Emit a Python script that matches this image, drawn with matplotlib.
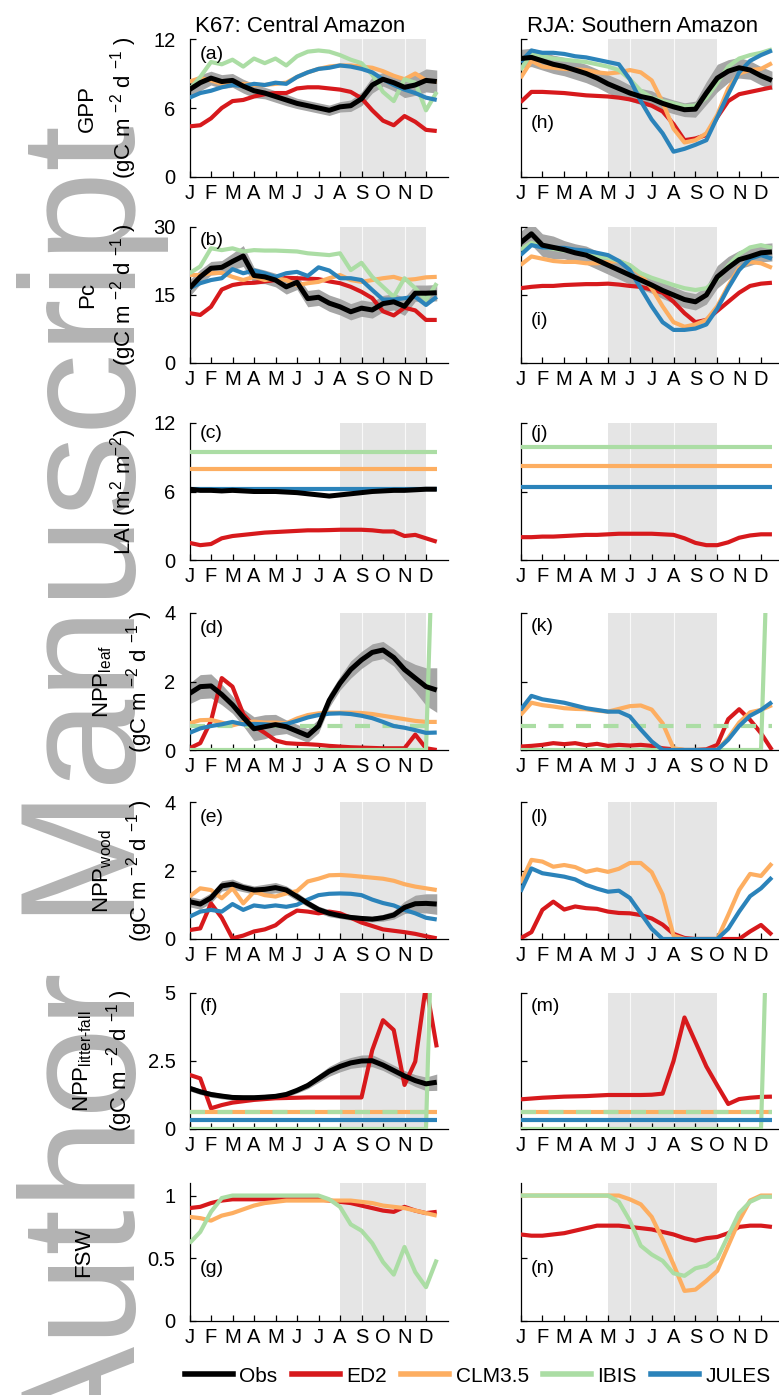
import numpy as np
import matplotlib
matplotlib.use('Agg')
import matplotlib.pyplot as plt
from matplotlib.lines import Line2D

plt.rcParams['font.family'] = ['Liberation Sans', 'DejaVu Sans']
plt.rcParams['mathtext.fontset'] = 'custom'
plt.rcParams['mathtext.rm'] = 'Liberation Sans'
plt.rcParams['mathtext.it'] = 'Liberation Sans'
plt.rcParams['mathtext.default'] = 'regular'

W, H = 779, 1395

# ---------------- data ----------------
months = ['J', 'F', 'M', 'A', 'M', 'J', 'J', 'A', 'S', 'O', 'N', 'D']
month_pos = [0, 1, 2, 3, 4, 5, 6, 7, 8, 9, 10, 11]
time = [0.0, 0.5, 1.0, 1.5, 2.0, 2.5, 3.0, 3.5, 4.0, 4.5, 5.0, 5.5,
        6.0, 6.5, 7.0, 7.5, 8.0, 8.5, 9.0, 9.5, 10.0, 10.5, 11.0, 11.5]

# K67 (Central Amazon)
gpp_k_obs = [7.6, 8.2, 8.6, 8.3, 8.4, 7.9, 7.5, 7.3, 7.0, 6.7, 6.4, 6.2, 6.0, 5.8, 6.1, 6.2, 6.8, 8.0, 8.5, 8.2, 7.8, 8.0, 8.4, 8.3]
gpp_k_sd = [0.8, 0.7, 0.6, 0.6, 0.6, 0.6, 0.6, 0.5, 0.5, 0.5, 0.45, 0.45, 0.45, 0.45, 0.45, 0.5, 0.6, 0.7, 0.6, 0.7, 0.9, 0.9, 1.0, 1.0]
gpp_k_ed2 = [4.4, 4.5, 5.1, 6.0, 6.6, 6.7, 7.0, 7.2, 7.3, 7.3, 7.7, 7.8, 7.8, 7.7, 7.6, 7.4, 6.85, 5.8, 4.9, 4.5, 5.3, 4.8, 4.1, 4.0]
gpp_k_clm = [8.3, 8.6, 8.4, 8.1, 8.0, 8.1, 8.0, 8.0, 8.1, 8.2, 8.7, 9.1, 9.4, 9.6, 9.7, 9.7, 9.6, 9.5, 9.2, 8.8, 8.5, 9.0, 8.4, 8.3]
gpp_k_ibis = [7.6, 8.7, 10.0, 9.8, 10.2, 9.6, 10.3, 9.9, 10.3, 9.7, 10.5, 10.9, 11.0, 10.9, 10.6, 10.2, 9.9, 8.9, 7.4, 6.6, 8.5, 8.2, 5.8, 7.4]
gpp_k_jules = [6.9, 7.3, 7.5, 7.8, 8.0, 7.9, 8.1, 8.0, 8.2, 8.1, 8.7, 9.1, 9.4, 9.5, 9.7, 9.6, 9.4, 9.1, 8.5, 8.0, 7.6, 7.3, 6.9, 6.7]

pc_k_obs = [16.5, 19.0, 20.9, 21.1, 22.4, 23.6, 19.3, 19.0, 18.3, 16.8, 17.8, 14.2, 14.5, 13.2, 12.4, 11.3, 12.1, 11.7, 13.1, 13.5, 12.5, 15.4, 15.4, 15.5]
pc_k_sd = [1.8, 1.6, 1.5, 1.5, 1.8, 2.3, 1.8, 1.5, 1.5, 1.6, 1.6, 1.8, 1.8, 1.8, 1.8, 1.8, 1.8, 1.8, 1.8, 1.8, 2.0, 1.8, 1.8, 1.8]
pc_k_ed2 = [11.0, 10.6, 12.4, 16.2, 17.2, 17.6, 17.7, 18.0, 18.3, 18.8, 18.7, 18.6, 18.5, 18.0, 17.6, 16.8, 15.7, 14.3, 11.4, 10.5, 12.2, 11.6, 9.5, 9.5]
pc_k_clm = [19.4, 19.4, 19.8, 19.9, 19.0, 18.3, 19.0, 18.3, 18.7, 18.3, 17.2, 17.6, 17.9, 18.7, 19.4, 18.3, 17.9, 18.3, 18.7, 19.0, 18.3, 18.5, 18.9, 19.0]
pc_k_ibis = [19.8, 21.3, 25.3, 24.9, 25.3, 24.6, 24.9, 24.8, 24.8, 24.7, 24.6, 24.2, 24.0, 23.8, 24.2, 20.5, 22.1, 19.0, 16.8, 14.6, 18.7, 16.5, 13.9, 17.6]
pc_k_jules = [16.5, 17.6, 18.3, 18.7, 20.7, 19.8, 20.4, 19.8, 19.0, 19.8, 20.1, 19.2, 21.1, 20.4, 18.7, 18.7, 18.3, 16.1, 14.0, 14.0, 14.3, 14.6, 12.8, 14.6]

lai_k_obs = [6.2, 6.1, 6.1, 6.05, 6.1, 6.05, 6.0, 6.0, 6.0, 5.95, 5.9, 5.8, 5.7, 5.6, 5.7, 5.8, 5.9, 6.0, 6.05, 6.1, 6.1, 6.15, 6.2, 6.2]
lai_k_ed2 = [1.5, 1.3, 1.4, 1.9, 2.1, 2.2, 2.3, 2.4, 2.45, 2.5, 2.55, 2.6, 2.6, 2.62, 2.65, 2.65, 2.65, 2.6, 2.5, 2.5, 2.1, 2.2, 1.9, 1.6]
lai_k_clm = [8.0, 8.0, 8.0, 8.0, 8.0, 8.0, 8.0, 8.0, 8.0, 8.0, 8.0, 8.0, 8.0, 8.0, 8.0, 8.0, 8.0, 8.0, 8.0, 8.0, 8.0, 8.0, 8.0, 8.0]
lai_k_ibis = [9.5, 9.5, 9.5, 9.5, 9.5, 9.5, 9.5, 9.5, 9.5, 9.5, 9.5, 9.5, 9.5, 9.5, 9.5, 9.5, 9.5, 9.5, 9.5, 9.5, 9.5, 9.5, 9.5, 9.5]
lai_k_jules = [6.25, 6.25, 6.25, 6.25, 6.25, 6.25, 6.25, 6.25, 6.25, 6.25, 6.25, 6.25, 6.25, 6.25, 6.25, 6.25, 6.25, 6.25, 6.25, 6.25, 6.25, 6.25, 6.25, 6.25]

leaf_k_obs = [1.65, 1.85, 1.87, 1.62, 1.32, 0.95, 0.62, 0.68, 0.74, 0.68, 0.55, 0.42, 0.7, 1.45, 1.95, 2.35, 2.63, 2.85, 2.92, 2.7, 2.35, 2.1, 1.85, 1.75]
leaf_k_sd = [0.3, 0.35, 0.35, 0.3, 0.25, 0.25, 0.35, 0.35, 0.3, 0.2, 0.2, 0.2, 0.2, 0.2, 0.2, 0.25, 0.25, 0.25, 0.25, 0.25, 0.3, 0.4, 0.55, 0.65]
leaf_k_ed2 = [0.05, 0.2, 0.85, 2.1, 1.85, 1.05, 0.7, 0.5, 0.28, 0.2, 0.18, 0.17, 0.15, 0.12, 0.1, 0.08, 0.07, 0.06, 0.05, 0.05, 0.05, 0.45, 0.05, 0.0]
leaf_k_clm = [0.78, 0.87, 0.88, 0.8, 0.72, 0.8, 0.83, 0.8, 0.8, 0.78, 0.92, 1.02, 1.07, 1.09, 1.09, 1.09, 1.08, 1.05, 1.0, 0.95, 0.9, 0.85, 0.82, 0.82]
leaf_k_ibis = [0, 0, 0, 0, 0, 0, 0, 0, 0, 0, 0, 0, 0, 0, 0, 0, 0, 0, 0, 0, 0, 0, 0, 10.0]
leaf_k_ibis_mean = [0.71, 0.71, 0.71, 0.71, 0.71, 0.71, 0.71, 0.71, 0.71, 0.71, 0.71, 0.71, 0.71, 0.71, 0.71, 0.71, 0.71, 0.71, 0.71, 0.71, 0.71, 0.71, 0.71, 0.71]
leaf_k_jules = [0.5, 0.63, 0.7, 0.75, 0.82, 0.75, 0.76, 0.75, 0.73, 0.76, 0.85, 0.95, 1.02, 1.06, 1.07, 1.05, 1.0, 0.93, 0.82, 0.7, 0.65, 0.58, 0.5, 0.51]

wood_k_obs = [1.09, 1.02, 1.2, 1.55, 1.6, 1.5, 1.43, 1.45, 1.5, 1.43, 1.24, 1.04, 0.86, 0.75, 0.68, 0.63, 0.6, 0.58, 0.62, 0.7, 0.92, 1.03, 1.04, 1.02]
wood_k_sd = [0.15, 0.15, 0.15, 0.15, 0.15, 0.12, 0.12, 0.15, 0.15, 0.12, 0.12, 0.1, 0.1, 0.1, 0.08, 0.08, 0.08, 0.08, 0.1, 0.12, 0.18, 0.25, 0.28, 0.3]
wood_k_ed2 = [0.26, 0.31, 1.04, 0.62, 0.02, 0.1, 0.22, 0.28, 0.4, 0.65, 0.83, 0.8, 0.75, 0.8, 0.75, 0.62, 0.48, 0.38, 0.28, 0.24, 0.2, 0.15, 0.08, 0.02]
wood_k_clm = [1.24, 1.48, 1.43, 1.19, 1.48, 1.04, 1.38, 1.28, 1.24, 1.33, 1.4, 1.68, 1.76, 1.86, 1.87, 1.85, 1.82, 1.79, 1.76, 1.7, 1.6, 1.53, 1.48, 1.43]
wood_k_jules = [0.65, 0.8, 0.85, 0.8, 1.02, 0.85, 0.98, 0.94, 0.98, 0.94, 1.0, 1.15, 1.28, 1.32, 1.33, 1.32, 1.28, 1.15, 1.05, 0.98, 0.85, 0.75, 0.62, 0.57]

lit_k_obs = [1.5, 1.37, 1.27, 1.21, 1.16, 1.15, 1.15, 1.17, 1.2, 1.27, 1.42, 1.6, 1.86, 2.12, 2.3, 2.43, 2.5, 2.51, 2.35, 2.15, 1.95, 1.78, 1.66, 1.72]
lit_k_sd = [0.1, 0.1, 0.1, 0.1, 0.1, 0.1, 0.1, 0.1, 0.1, 0.1, 0.1, 0.12, 0.15, 0.18, 0.2, 0.2, 0.22, 0.22, 0.2, 0.2, 0.2, 0.22, 0.25, 0.3]
lit_k_ed2 = [1.99, 1.86, 0.76, 0.88, 0.97, 1.02, 1.07, 1.1, 1.13, 1.14, 1.15, 1.16, 1.16, 1.16, 1.16, 1.16, 1.16, 2.9, 4.0, 3.64, 1.62, 2.48, 5.3, 3.0]
lit_k_clm = [0.64, 0.64, 0.64, 0.64, 0.64, 0.64, 0.64, 0.64, 0.64, 0.64, 0.64, 0.64, 0.64, 0.64, 0.64, 0.64, 0.64, 0.64, 0.64, 0.64, 0.64, 0.64, 0.64, 0.64]
lit_k_ibis = [0, 0, 0, 0, 0, 0, 0, 0, 0, 0, 0, 0, 0, 0, 0, 0, 0, 0, 0, 0, 0, 0, 0, 14.0]
lit_k_ibis_mean = [0.64, 0.64, 0.64, 0.64, 0.64, 0.64, 0.64, 0.64, 0.64, 0.64, 0.64, 0.64, 0.64, 0.64, 0.64, 0.64, 0.64, 0.64, 0.64, 0.64, 0.64, 0.64, 0.64, 0.64]
lit_k_jules = [0.33, 0.33, 0.33, 0.33, 0.33, 0.33, 0.33, 0.33, 0.33, 0.33, 0.33, 0.33, 0.33, 0.33, 0.33, 0.33, 0.33, 0.33, 0.33, 0.33, 0.33, 0.33, 0.33, 0.33]

fsw_k_ed2 = [0.9, 0.91, 0.94, 0.96, 0.97, 0.97, 0.97, 0.97, 0.97, 0.97, 0.97, 0.97, 0.97, 0.96, 0.95, 0.94, 0.92, 0.9, 0.88, 0.87, 0.91, 0.88, 0.86, 0.87]
fsw_k_clm = [0.83, 0.82, 0.8, 0.84, 0.86, 0.89, 0.92, 0.94, 0.95, 0.96, 0.96, 0.96, 0.96, 0.96, 0.96, 0.96, 0.95, 0.94, 0.92, 0.91, 0.9, 0.88, 0.86, 0.84]
fsw_k_ibis = [0.62, 0.71, 0.87, 0.98, 1.0, 1.0, 1.0, 1.0, 1.0, 1.0, 1.0, 1.0, 1.0, 0.97, 0.91, 0.77, 0.72, 0.62, 0.47, 0.37, 0.59, 0.39, 0.27, 0.49]

# RJA (Southern Amazon)
gpp_r_obs = [10.3, 10.4, 10.1, 9.8, 9.6, 9.3, 9.0, 8.6, 8.1, 7.7, 7.3, 7.0, 6.8, 6.4, 6.1, 5.85, 5.9, 7.3, 8.6, 9.2, 9.5, 9.3, 8.8, 8.4]
gpp_r_sd = [0.8, 0.8, 0.8, 0.8, 0.8, 0.8, 0.8, 0.8, 0.8, 0.8, 0.7, 0.7, 0.7, 0.6, 0.6, 0.6, 0.7, 1.0, 1.2, 1.0, 0.9, 0.8, 0.8, 0.8]
gpp_r_ed2 = [6.5, 7.4, 7.4, 7.35, 7.3, 7.2, 7.1, 7.05, 7.0, 6.9, 6.75, 6.5, 6.2, 5.7, 4.6, 3.2, 3.35, 3.65, 5.2, 6.6, 7.2, 7.4, 7.6, 7.8]
gpp_r_clm = [8.6, 10.1, 9.6, 9.5, 9.4, 9.35, 9.3, 9.1, 9.0, 9.1, 9.3, 9.1, 8.4, 6.5, 4.2, 3.0, 3.2, 3.8, 5.4, 7.7, 9.0, 9.3, 9.4, 9.9]
gpp_r_ibis = [9.3, 10.8, 10.5, 10.3, 10.2, 10.1, 10.0, 9.8, 9.6, 9.3, 8.5, 7.5, 6.9, 6.6, 6.4, 6.15, 6.2, 6.9, 8.2, 9.6, 10.3, 10.6, 10.8, 11.1]
gpp_r_jules = [10.0, 11.0, 10.8, 10.8, 10.7, 10.5, 10.4, 10.2, 10.0, 9.8, 8.5, 6.6, 5.0, 3.8, 2.2, 2.45, 2.8, 3.2, 5.2, 7.2, 9.1, 10.1, 10.6, 11.0]

pc_r_obs = [26.5, 28.5, 26.0, 25.5, 25.0, 24.3, 23.8, 22.7, 21.6, 20.5, 19.4, 18.3, 17.2, 16.0, 15.0, 14.0, 13.5, 15.0, 19.0, 21.0, 22.8, 23.5, 24.3, 24.5]
pc_r_sd = [2.5, 2.5, 2.5, 2.5, 2.0, 2.0, 2.0, 2.0, 2.0, 2.0, 2.0, 2.0, 1.8, 1.8, 1.8, 1.8, 1.8, 2.0, 2.5, 2.5, 2.0, 2.0, 2.0, 2.0]
pc_r_ed2 = [16.5, 16.8, 17.0, 17.0, 17.2, 17.3, 17.4, 17.4, 17.5, 17.3, 17.0, 16.8, 16.2, 15.5, 13.5, 11.0, 9.0, 9.5, 11.5, 13.5, 15.5, 17.0, 17.5, 17.7]
pc_r_clm = [21.6, 23.5, 23.0, 22.5, 22.3, 22.3, 22.0, 22.0, 22.3, 22.5, 21.5, 19.5, 16.5, 12.5, 9.0, 8.0, 8.5, 9.5, 12.5, 17.0, 21.0, 22.3, 22.0, 21.0]
pc_r_ibis = [25.0, 26.5, 25.6, 25.2, 24.8, 24.5, 24.0, 23.5, 23.2, 22.5, 21.6, 19.8, 18.8, 18.0, 17.2, 16.5, 16.1, 16.5, 18.5, 21.5, 24.0, 25.5, 26.0, 25.4]
pc_r_jules = [23.8, 26.0, 25.5, 25.4, 25.4, 25.0, 24.8, 24.3, 23.8, 22.5, 20.5, 16.5, 12.5, 9.0, 7.3, 7.3, 7.6, 8.5, 12.0, 16.5, 20.5, 23.0, 23.8, 23.0]

lai_r_ed2 = [2.0, 2.0, 2.05, 2.05, 2.1, 2.15, 2.2, 2.2, 2.25, 2.3, 2.3, 2.3, 2.3, 2.25, 2.2, 1.9, 1.5, 1.3, 1.3, 1.55, 1.95, 2.15, 2.25, 2.25]
lai_r_clm = [8.2, 8.2, 8.2, 8.2, 8.2, 8.2, 8.2, 8.2, 8.2, 8.2, 8.2, 8.2, 8.2, 8.2, 8.2, 8.2, 8.2, 8.2, 8.2, 8.2, 8.2, 8.2, 8.2, 8.2]
lai_r_ibis = [9.9, 9.9, 9.9, 9.9, 9.9, 9.9, 9.9, 9.9, 9.9, 9.9, 9.9, 9.9, 9.9, 9.9, 9.9, 9.9, 9.9, 9.9, 9.9, 9.9, 9.9, 9.9, 9.9, 9.9]
lai_r_jules = [6.4, 6.4, 6.4, 6.4, 6.4, 6.4, 6.4, 6.4, 6.4, 6.4, 6.4, 6.4, 6.4, 6.4, 6.4, 6.4, 6.4, 6.4, 6.4, 6.4, 6.4, 6.4, 6.4, 6.4]

leaf_r_ed2 = [0.1, 0.12, 0.15, 0.2, 0.17, 0.2, 0.14, 0.18, 0.12, 0.15, 0.13, 0.15, 0.12, 0.05, 0.02, 0.0, 0.0, 0.02, 0.15, 0.9, 1.19, 0.88, 0.49, 0.0]
leaf_r_clm = [1.02, 1.38, 1.31, 1.27, 1.22, 1.2, 1.19, 1.15, 1.12, 1.2, 1.28, 1.3, 1.18, 0.78, 0.05, 0.0, 0.0, 0.0, 0.0, 0.35, 0.8, 1.1, 1.17, 1.31]
leaf_r_ibis = [0, 0, 0, 0, 0, 0, 0, 0, 0, 0, 0, 0, 0, 0, 0, 0, 0, 0, 0, 0, 0, 0, 0, 10.0]
leaf_r_ibis_mean = [0.71, 0.71, 0.71, 0.71, 0.71, 0.71, 0.71, 0.71, 0.71, 0.71, 0.71, 0.71, 0.71, 0.71, 0.71, 0.71, 0.71, 0.71, 0.71, 0.71, 0.71, 0.71, 0.71, 0.71]
leaf_r_jules = [1.17, 1.58, 1.48, 1.43, 1.38, 1.3, 1.22, 1.17, 1.12, 1.12, 0.98, 0.6, 0.25, 0.0, 0.0, 0.0, 0.0, 0.0, 0.0, 0.3, 0.7, 1.0, 1.17, 1.4]

wood_r_ed2 = [0.02, 0.2, 0.85, 1.09, 0.86, 0.95, 0.9, 0.88, 0.8, 0.76, 0.75, 0.7, 0.6, 0.42, 0.15, 0.03, 0.0, 0.0, 0.0, 0.0, 0.0, 0.22, 0.41, 0.12]
wood_r_clm = [1.63, 2.31, 2.26, 2.11, 2.16, 2.1, 1.96, 2.03, 1.96, 2.05, 2.22, 2.22, 1.95, 1.3, 0.1, 0.0, 0.0, 0.0, 0.0, 0.7, 1.43, 1.9, 1.84, 2.21]
wood_r_jules = [1.38, 2.06, 1.92, 1.87, 1.82, 1.74, 1.58, 1.47, 1.38, 1.41, 1.2, 0.75, 0.3, 0.0, 0.0, 0.0, 0.0, 0.0, 0.0, 0.3, 0.8, 1.25, 1.48, 1.8]

lit_r_ed2 = [1.09, 1.12, 1.15, 1.17, 1.19, 1.2, 1.21, 1.23, 1.25, 1.25, 1.25, 1.25, 1.26, 1.3, 2.5, 4.1, 3.2, 2.3, 1.6, 0.92, 1.1, 1.15, 1.18, 1.19]
lit_r_clm = [0.64, 0.64, 0.64, 0.64, 0.64, 0.64, 0.64, 0.64, 0.64, 0.64, 0.64, 0.64, 0.64, 0.64, 0.64, 0.64, 0.64, 0.64, 0.64, 0.64, 0.64, 0.64, 0.64, 0.64]
lit_r_ibis = [0, 0, 0, 0, 0, 0, 0, 0, 0, 0, 0, 0, 0, 0, 0, 0, 0, 0, 0, 0, 0, 0, 0, 14.0]
lit_r_ibis_mean = [0.64, 0.64, 0.64, 0.64, 0.64, 0.64, 0.64, 0.64, 0.64, 0.64, 0.64, 0.64, 0.64, 0.64, 0.64, 0.64, 0.64, 0.64, 0.64, 0.64, 0.64, 0.64, 0.64, 0.64]
lit_r_jules = [0.33, 0.33, 0.33, 0.33, 0.33, 0.33, 0.33, 0.33, 0.33, 0.33, 0.33, 0.33, 0.33, 0.33, 0.33, 0.33, 0.33, 0.33, 0.33, 0.33, 0.33, 0.33, 0.33, 0.33]

fsw_r_ed2 = [0.69, 0.68, 0.68, 0.69, 0.7, 0.72, 0.74, 0.76, 0.76, 0.76, 0.75, 0.74, 0.73, 0.71, 0.69, 0.66, 0.64, 0.66, 0.67, 0.7, 0.75, 0.76, 0.76, 0.75]
fsw_r_clm = [1.0, 1.0, 1.0, 1.0, 1.0, 1.0, 1.0, 1.0, 1.0, 1.0, 0.97, 0.93, 0.83, 0.65, 0.45, 0.24, 0.25, 0.32, 0.4, 0.6, 0.8, 0.96, 1.0, 1.0]
fsw_r_ibis = [1.0, 1.0, 1.0, 1.0, 1.0, 1.0, 1.0, 1.0, 1.0, 0.95, 0.8, 0.6, 0.53, 0.48, 0.38, 0.36, 0.42, 0.44, 0.5, 0.68, 0.86, 0.95, 0.99, 0.99]

dry_k = (7, 11)
dry_k_lines = [8, 10]
dry_r = (4, 9)
dry_r_lines = [5, 7]

C_OBS = 'black'
C_ED2 = '#d7191c'
C_CLM = '#fdae61'
C_IBIS = '#abdda4'
C_JULES = '#2b83ba'

# --------------- figure -----------------
fig = plt.figure(figsize=(W / 100, H / 100), dpi=100)

rows = [(39, 177), (227, 363), (423, 560), (613, 750), (802, 939), (993, 1129), (1183, 1321)]
cols = [(189.5, 447.5, 12.0), (520.5, 778.5, 11.8)]

unit = r'(gC m $^{-2}$ d $^{-1}$ )'
ylabels = ['GPP\n' + unit, 'Pc\n' + unit, r'LAI (m$^2$ m$^{-2}$)',
           r'NPP$_{leaf}$' + '\n' + unit, r'NPP$_{wood}$' + '\n' + unit,
           r'NPP$_{litter\text{-}fall}$' + '\n' + unit, 'FSW']
# right edge (px) of each y label, as in the reference
ylabel_edge = [139, 139, 139, 155, 155, 135, 94]
ylims = [(0, 12), (0, 30), (0, 12), (0, 4), (0, 4), (0, 5), (0, 1.1)]
yticks = [[0, 6, 12], [0, 15, 30], [0, 6, 12], [0, 2, 4], [0, 2, 4], [0, 2.5, 5], [0, 0.5, 1]]
ytl = [['0', '6', '12'], ['0', '15', '30'], ['0', '6', '12'], ['0', '2', '4'], ['0', '2', '4'],
       ['0', '2.5', '5'], ['0', '0.5', '1']]

k67 = [
    dict(obs=gpp_k_obs, sd=gpp_k_sd, ed2=gpp_k_ed2, clm=gpp_k_clm, ibis=gpp_k_ibis, jules=gpp_k_jules),
    dict(obs=pc_k_obs, sd=pc_k_sd, ed2=pc_k_ed2, clm=pc_k_clm, ibis=pc_k_ibis, jules=pc_k_jules),
    dict(obs=lai_k_obs, ed2=lai_k_ed2, clm=lai_k_clm, ibis=lai_k_ibis, jules=lai_k_jules),
    dict(obs=leaf_k_obs, sd=leaf_k_sd, ed2=leaf_k_ed2, clm=leaf_k_clm, ibis=leaf_k_ibis,
         ibis_mean=leaf_k_ibis_mean, jules=leaf_k_jules),
    dict(obs=wood_k_obs, sd=wood_k_sd, ed2=wood_k_ed2, clm=wood_k_clm, jules=wood_k_jules),
    dict(obs=lit_k_obs, sd=lit_k_sd, ed2=lit_k_ed2, clm=lit_k_clm, ibis=lit_k_ibis,
         ibis_mean=lit_k_ibis_mean, jules=lit_k_jules),
    dict(ed2=fsw_k_ed2, clm=fsw_k_clm, ibis=fsw_k_ibis),
]
rja = [
    dict(obs=gpp_r_obs, sd=gpp_r_sd, ed2=gpp_r_ed2, clm=gpp_r_clm, ibis=gpp_r_ibis, jules=gpp_r_jules),
    dict(obs=pc_r_obs, sd=pc_r_sd, ed2=pc_r_ed2, clm=pc_r_clm, ibis=pc_r_ibis, jules=pc_r_jules),
    dict(ed2=lai_r_ed2, clm=lai_r_clm, ibis=lai_r_ibis, jules=lai_r_jules),
    dict(ed2=leaf_r_ed2, clm=leaf_r_clm, ibis=leaf_r_ibis, ibis_mean=leaf_r_ibis_mean, jules=leaf_r_jules),
    dict(ed2=wood_r_ed2, clm=wood_r_clm, jules=wood_r_jules),
    dict(ed2=lit_r_ed2, clm=lit_r_clm, ibis=lit_r_ibis, ibis_mean=lit_r_ibis_mean, jules=lit_r_jules),
    dict(ed2=fsw_r_ed2, clm=fsw_r_clm, ibis=fsw_r_ibis),
]
letters_k = ['(a)', '(b)', '(c)', '(d)', '(e)', '(f)', '(g)']
letters_r = ['(h)', '(i)', '(j)', '(k)', '(l)', '(m)', '(n)']
letter_y_k = [0.885, 0.9, 0.92, 0.89, 0.89, 0.9, 0.38]
letter_y_r = [0.39, 0.31, 0.92, 0.9, 0.89, 0.9, 0.38]

LW = 3.0


def draw(ax, d, dry, dry_lines, xmax, ylim, yt, ytlab, show_y, letter, ly):
    ax.set_xlim(0, xmax)
    ax.set_ylim(*ylim)
    ax.axvspan(dry[0], dry[1], color='#e5e5e5', lw=0, zorder=0)
    for xl in dry_lines:
        ax.axvline(xl, color='white', lw=0.8, alpha=0.8, zorder=0.5)
    tt = np.array(time)
    if 'sd' in d:
        o = np.array(d['obs'])
        s = np.array(d['sd'])
        ax.fill_between(tt, o - s, o + s, color='#a6a6a6', lw=0, zorder=1)
    kw = dict(solid_capstyle='butt')
    if 'ed2' in d:
        ax.plot(tt, d['ed2'], color=C_ED2, lw=LW, zorder=3, **kw)
    if 'clm' in d:
        ax.plot(tt, d['clm'], color=C_CLM, lw=LW, zorder=4, **kw)
    if 'ibis' in d:
        ax.plot(tt, d['ibis'], color=C_IBIS, lw=LW, zorder=5, **kw)
    if 'ibis_mean' in d:
        ax.plot(tt, d['ibis_mean'], color=C_IBIS, lw=LW, zorder=5.5, dashes=(3.6, 3.0))
    if 'jules' in d:
        ax.plot(tt, d['jules'], color=C_JULES, lw=LW, zorder=6, **kw)
    if 'obs' in d:
        ax.plot(tt, d['obs'], color=C_OBS, lw=3.6, zorder=7, **kw)
    ax.set_xticks(month_pos)
    ax.set_xticklabels(months)
    ax.set_yticks(yt)
    if show_y:
        ax.set_yticklabels(ytlab)
    else:
        ax.set_yticklabels([])
    for s in ['top', 'right']:
        ax.spines[s].set_visible(False)
    for s in ['left', 'bottom']:
        ax.spines[s].set_linewidth(0.9)
        ax.spines[s].set_zorder(2.5)
    ax.tick_params(direction='in', length=4, width=0.9, labelsize=14.5)
    ax.tick_params(axis='x', pad=5)
    ax.tick_params(axis='y', pad=10)
    ax.text(0.04, ly, letter, transform=ax.transAxes, fontsize=14, va='center', ha='left', zorder=10)


for i, (yt_, yb_) in enumerate(rows):
    for j, (x0, x1, xmax) in enumerate(cols):
        ax = fig.add_axes([x0 / W, 1 - yb_ / H, (x1 - x0) / W, (yb_ - yt_) / H])
        ax.set_facecolor('none')
        if j == 0:
            draw(ax, k67[i], dry_k, dry_k_lines, xmax, ylims[i], yticks[i], ytl[i], True,
                 letters_k[i], letter_y_k[i])
            ax.set_ylabel(ylabels[i], fontsize=16, linespacing=1.45)
            ax.yaxis.set_label_coords((ylabel_edge[i] - x0) / (x1 - x0), 0.5)
        else:
            draw(ax, rja[i], dry_r, dry_r_lines, xmax, ylims[i], yticks[i], ytl[i], False,
                 letters_r[i], letter_y_r[i])

fig.text(300 / W, 1 - 32 / H, 'K67: Central Amazon', fontsize=16, ha='center', va='baseline')
fig.text(643 / W, 1 - 32 / H, 'RJA: Southern Amazon', fontsize=16, ha='center', va='baseline')

# watermark
fig.text(135 / W, -60 / H, 'Author Manuscript', rotation=90, rotation_mode='anchor',
         ha='left', va='baseline', fontsize=118, color='#b3b3b3', zorder=-10)

handles = [Line2D([], [], color=C_OBS, lw=4), Line2D([], [], color=C_ED2, lw=4),
           Line2D([], [], color=C_CLM, lw=4), Line2D([], [], color=C_IBIS, lw=4),
           Line2D([], [], color=C_JULES, lw=4)]
fig.legend(handles, ['Obs', 'ED2', 'CLM3.5', 'IBIS', 'JULES'], loc='center',
           bbox_to_anchor=(478 / W, 1 - 1376 / H), ncol=5, frameon=False, fontsize=15,
           handlelength=2.3, handletextpad=0.3, columnspacing=0.7)

fig.savefig('out.png', dpi=100)
